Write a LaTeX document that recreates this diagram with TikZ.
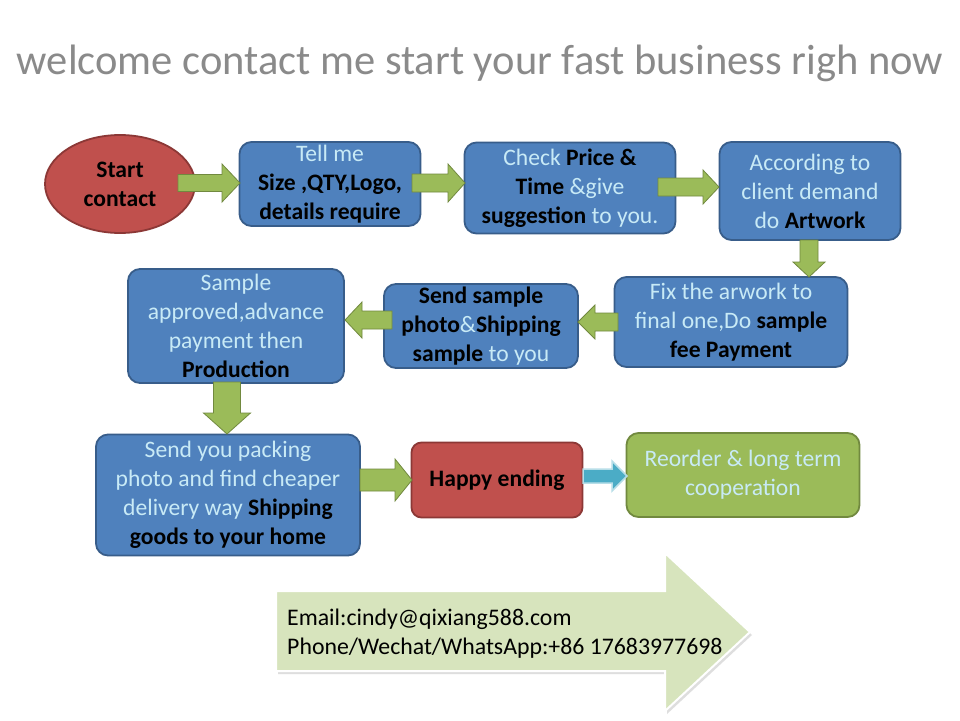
\documentclass[tikz,border=0pt]{standalone}
\usepackage{fontspec}
\setmainfont{Carlito}
\usetikzlibrary{shadows,shapes.geometric}
\definecolor{bluefill}{HTML}{4F81BD}
\definecolor{blueline}{HTML}{385D8A}
\definecolor{redfill}{HTML}{C0504D}
\definecolor{redline}{HTML}{8C3836}
\definecolor{greenfill}{HTML}{9BBB59}
\definecolor{greenline}{HTML}{71893F}
\definecolor{lightc}{HTML}{C8EAF6}
\definecolor{titlegray}{HTML}{8A8A8A}
\definecolor{paleg}{HTML}{D7E4BD}
\definecolor{cyanfill}{HTML}{4BACC6}
\definecolor{cyanline}{HTML}{B7DEE8}
\newcommand\lighttxt[1]{\textcolor{lightc}{#1}}
\newcommand\rarrowblk[7]{% style, x1, x2, y, shaft half, head half, head length
  \draw[#1] (#2,#4-#5) -- (#3-#7,#4-#5) -- (#3-#7,#4-#6) -- (#3,#4) -- (#3-#7,#4+#6) -- (#3-#7,#4+#5) -- (#2,#4+#5) -- cycle;}
\newcommand\larrowblk[7]{% style, x1 (tail), x2 (tip), y, shaft half, head half, head length
  \draw[#1] (#2,#4-#5) -- (#3+#7,#4-#5) -- (#3+#7,#4-#6) -- (#3,#4) -- (#3+#7,#4+#6) -- (#3+#7,#4+#5) -- (#2,#4+#5) -- cycle;}
\newcommand\darrowblk[7]{% style, y1 (tail), y2 (tip), x, shaft half, head half, head length
  \draw[#1] (#4-#5,#2) -- (#4-#5,#3-#7) -- (#4-#6,#3-#7) -- (#4,#3) -- (#4+#6,#3-#7) -- (#4+#5,#3-#7) -- (#4+#5,#2) -- cycle;}
\begin{document}
\begin{tikzpicture}[x=1pt,y=-1pt,
  boxfont/.style={font=\fontsize{23.6}{29}\selectfont},
  bluebox/.style={draw=blueline, line width=1.8pt, fill=bluefill, rounded corners=12pt,
     align=center, boxfont, inner sep=1pt},
  redbox/.style={draw=redline, line width=1.8pt, fill=redfill, rounded corners=10pt,
     align=center, boxfont},
  greenbox/.style={draw=greenline, line width=1.8pt, fill=greenfill, rounded corners=12pt,
     align=center, boxfont},
  garrow/.style={draw=greenline, line width=0.8pt, fill=greenfill, line join=miter},
  carrow/.style={draw=cyanline, line width=1.5pt, fill=cyanfill, line join=miter}]
\useasboundingbox (0,0) rectangle (960,720);
\fill[white] (0,0) rectangle (960,720);

\node[text=titlegray, font=\fontsize{42.5}{50}\selectfont] (title) at (480,63) {welcome contact me start your fast business righ now};

% boxes
\node[ellipse, draw=redline, line width=1.8pt, fill=redfill, minimum width=150pt, minimum height=98pt,
      align=center, inner sep=0pt, font=\fontsize{23.6}{29}\selectfont\bfseries] (start) at (120,184) {Start\\contact};
\node[bluebox, minimum width=181pt, minimum height=84pt] (tell) at (330,184)
  {\lighttxt{Tell me}\\\textbf{Size ,QTY,Logo,}\\\textbf{details require}};
\node[bluebox, minimum width=211pt, minimum height=91pt] (check) at (570,188)
  {\lighttxt{Check} \textbf{Price \&}\\\textbf{Time} \lighttxt{\&give}\\\textbf{suggestion} \lighttxt{to you.}};
\node[bluebox, minimum width=181pt, minimum height=98pt] (accord) at (810,191)
  {\lighttxt{According to}\\\lighttxt{client demand}\\\lighttxt{do} \textbf{Artwork}};
\node[bluebox, minimum width=233pt, minimum height=90pt] (fix) at (731,322)
  {\lighttxt{Fix the arwork to}\\\lighttxt{final one,Do} \textbf{sample}\\\textbf{fee Payment}};
\node[bluebox, minimum width=194pt, minimum height=84pt] (send) at (481,326)
  {\textbf{Send sample}\\\textbf{photo}\lighttxt{\&}\textbf{Shipping}\\\textbf{sample} \lighttxt{to you}};
\node[bluebox, minimum width=216pt, minimum height=114pt] (appr) at (236,326)
  {\lighttxt{Sample}\\\lighttxt{approved,advance}\\\lighttxt{payment then}\\\textbf{Production}};
\node[bluebox, minimum width=264pt, minimum height=121pt] (pack) at (228,495)
  {\lighttxt{Send you packing}\\\lighttxt{photo and find cheaper}\\\lighttxt{delivery way} \textbf{Shipping}\\\textbf{goods to your home}};
\node[redbox, minimum width=171pt, minimum height=75pt, font=\fontsize{23.6}{29}\selectfont\bfseries] (happy) at (497,480) {Happy ending};
\node[greenbox, minimum width=233pt, minimum height=84pt] (reorder) at (743,475)
  {\lighttxt{Reorder \& long term}\\\lighttxt{cooperation}};

% block arrows
\rarrowblk{garrow}{178}{240}{183}{8.5}{19}{18}
\rarrowblk{garrow}{412}{465}{183}{9}{19}{17}
\rarrowblk{garrow}{658}{719}{187}{9}{17}{16}
\darrowblk{garrow}{240}{277}{809}{9}{16}{15}
\larrowblk{garrow}{618}{578}{322}{9}{17}{17}
\larrowblk{garrow}{392}{345}{320}{9}{18}{17}
\darrowblk{garrow}{382}{434}{227}{13.5}{23.5}{21}
\rarrowblk{garrow}{360}{412}{480}{11}{21}{17}
\rarrowblk{carrow}{583}{627}{476}{7}{15}{15}

% contact arrow
\draw[draw=white, line width=2pt, fill=paleg, line join=miter,
      drop shadow={shadow xshift=2pt, shadow yshift=-3pt, fill=black!25}]
  (276,591) -- (665,591) -- (665,553) -- (750,632) -- (665,711) -- (665,671) -- (276,671) -- cycle;
\node[anchor=west, align=left, inner sep=0pt, font=\fontsize{23.8}{29}\selectfont] (contact) at (287,634)
  {Email:cindy@qixiang588.com\\Phone/Wechat/WhatsApp:+86 17683977698};
\end{tikzpicture}
\end{document}
